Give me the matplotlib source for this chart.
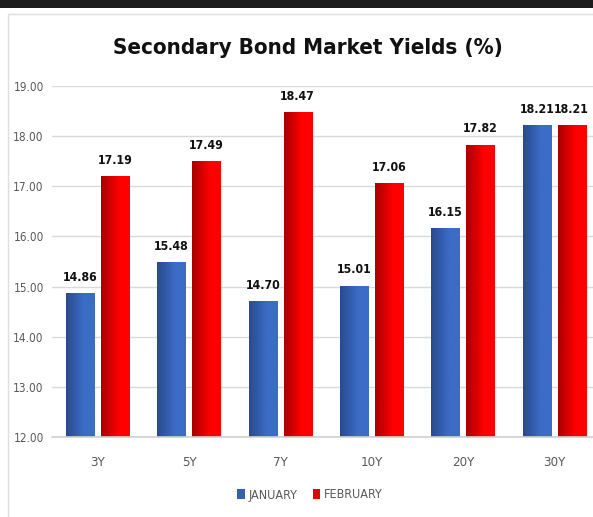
import matplotlib
matplotlib.use("Agg")
import matplotlib.pyplot as plt
import numpy as np
from matplotlib import font_manager as fm
from matplotlib.patches import Rectangle

categories = ["3Y", "5Y", "7Y", "10Y", "20Y", "30Y"]
january = [14.86, 15.48, 14.70, 15.01, 16.15, 18.21]
february = [17.19, 17.49, 18.47, 17.06, 17.82, 18.21]
yticks = [12, 13, 14, 15, 16, 17, 18, 19]

def is_cond(f):
    n = f.name.lower(); fn = f.fname.lower()
    return ("narrow" in n or "condensed" in n or "condensed" in fn or "narrow" in fn
            or str(f.stretch).lower() in ("condensed", "semi-condensed", "extra-condensed"))
def is_bold(f):
    w = f.weight
    if isinstance(w, str):
        return w in ("bold", "heavy", "black", "semibold", "demibold")
    return w >= 600
def score(f):
    n = f.name.lower(); fn = f.fname.lower()
    if "serif" in n or "serif" in fn or "mono" in n or "mono" in fn:
        return 99
    if "liberation" in n and "narrow" in (n + fn):
        return 0
    if "dejavu" in n:
        return 1
    return 2
cands = [f for f in fm.fontManager.ttflist if is_cond(f)
         and "oblique" not in f.style and "italic" not in f.style
         and "oblique" not in f.fname.lower() and "italic" not in f.fname.lower()]
def pick(bold):
    lst = [f for f in cands if is_bold(f) == bold and score(f) < 99]
    lst.sort(key=score)
    return lst[0] if lst else None
freg = pick(False)
fbold = pick(True)
def fp(bold, size):
    f = fbold if bold else freg
    if f is not None:
        return fm.FontProperties(fname=f.fname, size=size)
    return fm.FontProperties(family="DejaVu Sans", weight="bold" if bold else "normal", size=size)

fig = plt.figure(figsize=(5.93, 5.17), dpi=100)
fig.patch.set_facecolor("white")

fig.patches.append(Rectangle((0, 1 - 8/517), 1, 8/517, transform=fig.transFigure,
                             facecolor="#1c1c1c", edgecolor="none", zorder=-5))
fig.patches.append(Rectangle((8/593, -0.1), 1.2, 1.1 - 14/517, transform=fig.transFigure,
                             facecolor="none", edgecolor="#dedede", linewidth=1.0, zorder=-5))

ax = fig.add_axes([52/593, 80/517, 548/593, 351/517])
ax.set_zorder(2)
ax.set_facecolor("none")

x = np.arange(len(categories))
w = 0.31
off = 0.19
bj = ax.bar(x - off, january, w, color="#3560b0", zorder=2)
bf = ax.bar(x + off, february, w, color="#e60000", zorder=2)

def gradient(bars, c0, c1):
    c0 = np.array(matplotlib.colors.to_rgb(c0))
    c1 = np.array(matplotlib.colors.to_rgb(c1))
    t = np.linspace(0, 1, 64)
    t = np.clip(t * 1.6, 0, 1)
    img = (c0[None, :] * (1 - t[:, None]) + c1[None, :] * t[:, None])[None, :, :]
    for b in bars:
        bx, bw, bh = b.get_x(), b.get_width(), b.get_height()
        b.set_facecolor("none")
        b.set_edgecolor("none")
        ax.imshow(img, extent=[bx, bx + bw, 12, bh], aspect="auto", zorder=2.5,
                  interpolation="bilinear")

gradient(bj, "#2a4a8e", "#3b6cc6")
gradient(bf, "#a80000", "#ff0000")
ax.set_ylim(12, 19)
ax.set_xlim(-0.5, len(categories) - 0.5)

for b, v in list(zip(bj, january)) + list(zip(bf, february)):
    ax.annotate(f"{v:.2f}", (b.get_x() + b.get_width()/2, v), xytext=(0, 7),
                textcoords="offset points", ha="center", va="bottom",
                fontproperties=fp(True, 8.8), color="#111111")

ax.set_yticks(yticks)
ax.set_yticklabels([f"{v:.2f}" for v in yticks], fontproperties=fp(False, 8.5), color="#595959")
ax.set_xticks(x)
ax.set_xticklabels(categories, fontproperties=fp(False, 9.5), color="#595959")
ax.tick_params(axis="both", length=0)
ax.tick_params(axis="y", pad=6)
ax.tick_params(axis="x", pad=14)
ax.grid(axis="y", color="#dadada", linewidth=1.0, zorder=0)
ax.set_axisbelow(True)
for s in ["top", "right", "left"]:
    ax.spines[s].set_visible(False)
ax.spines["bottom"].set_color("#d0d0d0")
ax.spines["bottom"].set_linewidth(1.2)

fig.text(308/593, 1 - 48/517, "Secondary Bond Market Yields (%)", ha="center", va="center",
         fontproperties=fp(True, 16), color="#111111")

h1 = Rectangle((0, 0), 1, 1, facecolor="#3560b0")
h2 = Rectangle((0, 0), 1, 1, facecolor="#e60000")
leg = fig.legend([h1, h2], ["JANUARY", "FEBRUARY"], loc="center",
                 bbox_to_anchor=(310/593, 1 - 495/517), ncol=2, frameon=False,
                 handlelength=0.6, handleheight=0.9, handletextpad=0.3, columnspacing=1.2,
                 prop=fp(False, 9))
for t in leg.get_texts():
    t.set_color("#595959")

fig.savefig("out.png", dpi=100, facecolor="white")
